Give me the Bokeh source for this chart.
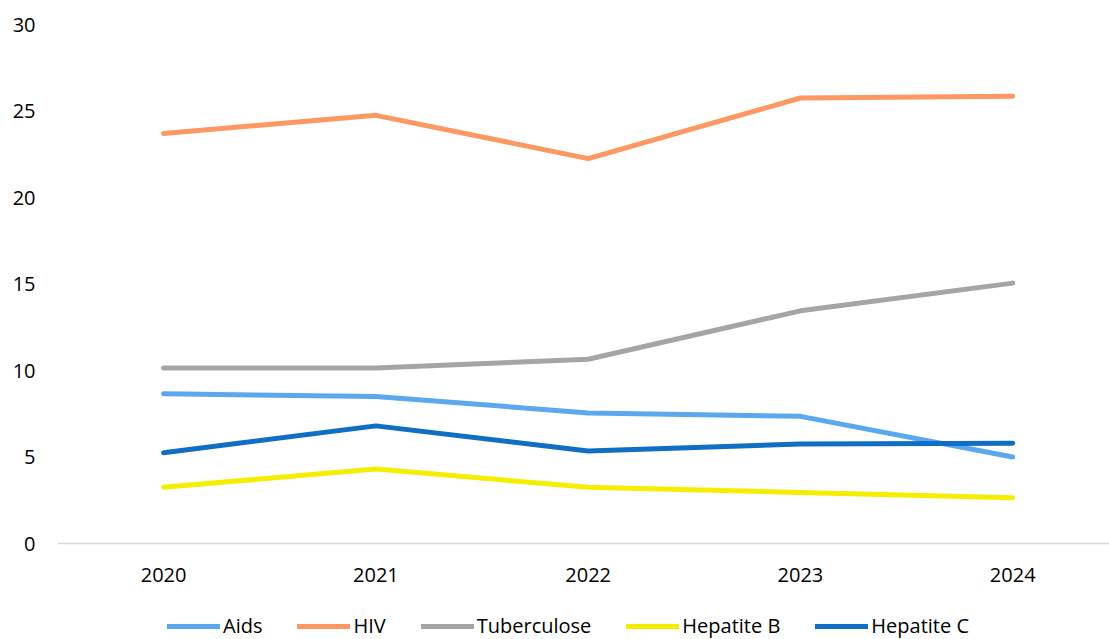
from bokeh.plotting import figure
from bokeh.models import Range1d, FixedTicker, Legend, LegendItem
from bokeh.embed import file_html
from bokeh.resources import INLINE

years = [2020, 2021, 2022, 2023, 2024]
aids = [8.65, 8.5, 7.55, 7.35, 5.0]
hiv = [23.7, 24.75, 22.25, 25.75, 25.85]
tuberculose = [10.15, 10.15, 10.65, 13.45, 15.05]
hepatite_b = [3.25, 4.3, 3.25, 2.95, 2.65]
hepatite_c = [5.25, 6.8, 5.35, 5.75, 5.8]
y_ticks = [0, 5, 10, 15, 20, 25, 30]

series = [
    ("Aids", aids, "#5BA8EF"),
    ("HIV", hiv, "#FD9862"),
    ("Tuberculose", tuberculose, "#A5A5A5"),
    ("Hepatite B", hepatite_b, "#F5EE00"),
    ("Hepatite C", hepatite_c, "#106EC5"),
]

FONT = "Open Sans"

# frame spans from the top value (30) down to the page bottom; the x axis sits at y=0
p = figure(width=1109, height=639, output_backend="svg", toolbar_location=None,
           x_range=Range1d(2019.5, 2024.456), y_range=Range1d(-5.549, 30),
           min_border_left=57, min_border_right=0, min_border_top=24, min_border_bottom=0)
p.outline_line_color = None
p.xgrid.visible = False
p.ygrid.visible = False

p.xaxis.fixed_location = 0
p.xaxis.ticker = FixedTicker(ticks=years)
p.xaxis.axis_line_color = "#D9D9D9"
p.xaxis.axis_line_width = 1.5
p.xaxis.major_tick_line_color = None
p.xaxis.minor_tick_line_color = None
p.xaxis.major_tick_out = 0
p.xaxis.major_tick_in = 0
p.xaxis.major_label_standoff = 24
p.xaxis.major_label_text_font = FONT
p.xaxis.major_label_text_font_size = "20px"
p.xaxis.major_label_text_color = "#000000"

p.yaxis.ticker = FixedTicker(ticks=y_ticks)
p.yaxis.axis_line_color = None
p.yaxis.major_tick_line_color = None
p.yaxis.minor_tick_line_color = None
p.yaxis.major_tick_out = 0
p.yaxis.major_label_standoff = 22
p.yaxis.major_label_text_font = FONT
p.yaxis.major_label_text_font_size = "20px"
p.yaxis.major_label_text_color = "#000000"

items = []
for name, vals, color in series:
    r = p.line(years, vals, line_color=color, line_width=5, line_cap="round")
    items.append(LegendItem(label=name, renderers=[r]))

legend = Legend(items=items, orientation="horizontal", location=(110, 0),
                label_text_font=FONT, label_text_font_size="20px", label_text_color="#000000",
                glyph_width=53, glyph_height=20, label_standoff=3, spacing=35, padding=0, margin=0,
                border_line_color=None, background_fill_alpha=0)
p.add_layout(legend, "center")

open("out.html", "w").write(file_html(p, INLINE))
